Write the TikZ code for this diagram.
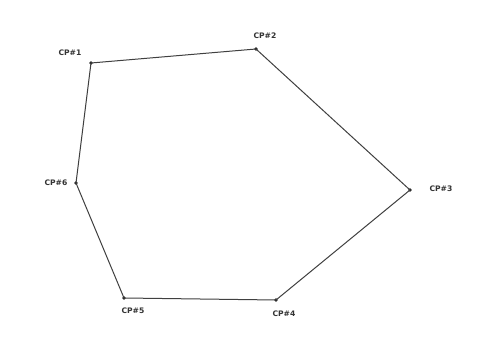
\documentclass[tikz,border=0pt]{standalone}
\usepackage{fontspec}
\setmainfont{DejaVu Sans}
\begin{document}
\begin{tikzpicture}[x=1pt,y=-1pt,
  cp/.style={circle,fill=black!85,inner sep=0pt,minimum size=3.6pt},
  lbl/.style={font=\bfseries\fontsize{7.6}{9}\selectfont,text=black!80,inner sep=1pt},
  edge/.style={draw=black!75,line width=1pt}]
\useasboundingbox[fill=white] (0,0) rectangle (499,358);
\node[cp] (p1) at (91,63) {};
\node[cp] (p2) at (256,49) {};
\node[cp] (p3) at (410,190) {};
\node[cp] (p4) at (276,300) {};
\node[cp] (p5) at (124,298) {};
\node[cp] (p6) at (76,183) {};
\node[lbl] (l1) at (70,53) {CP\#1};
\node[lbl] (l2) at (265,36) {CP\#2};
\node[lbl] (l3) at (441,189) {CP\#3};
\node[lbl] (l4) at (284,314) {CP\#4};
\node[lbl] (l5) at (133,311) {CP\#5};
\node[lbl] (l6) at (56,183) {CP\#6};
\draw[edge] (p1.center) -- (p2.center) -- (p3.center) -- (p4.center) -- (p5.center) -- (p6.center) -- (p1.center);
\end{tikzpicture}
\end{document}
